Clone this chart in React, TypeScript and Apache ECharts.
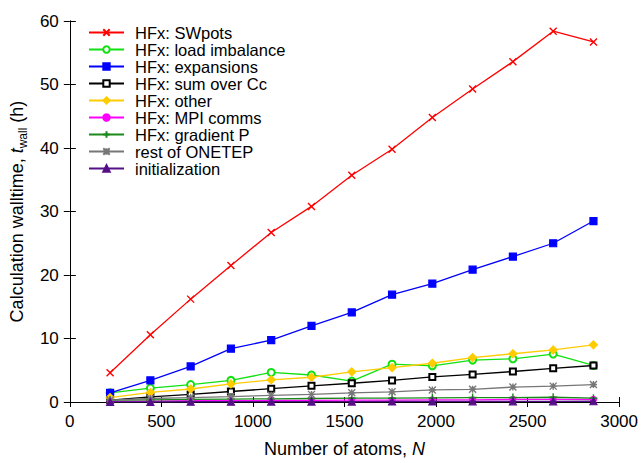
import React, { useEffect, useRef } from "react";
import * as echarts from "echarts";

const atoms = [220, 440, 660, 880, 1100, 1320, 1540, 1760, 1980, 2200, 2420, 2640, 2860];
const swpots = [4.6, 10.6, 16.2, 21.5, 26.7, 30.8, 35.7, 39.8, 44.8, 49.3, 53.6, 58.4, 56.7];
const loadImbalance = [1.45, 2.2, 2.75, 3.4, 4.65, 4.25, 3.3, 5.95, 5.7, 6.6, 6.8, 7.55, 5.75];
const expansions = [1.45, 3.4, 5.6, 8.4, 9.75, 12.0, 14.1, 16.9, 18.65, 20.85, 22.9, 25.0, 28.5];
const sumOverCc = [0.3, 0.8, 1.2, 1.65, 2.1, 2.55, 2.95, 3.4, 3.95, 4.35, 4.8, 5.3, 5.75];
const other = [0.7, 1.5, 2.05, 2.85, 3.5, 3.9, 4.75, 5.4, 6.1, 7.0, 7.6, 8.2, 9.0];
const mpiComms = [0.1, 0.15, 0.2, 0.2, 0.25, 0.25, 0.3, 0.3, 0.35, 0.35, 0.4, 0.4, 0.4];
const gradientP = [0.3, 0.35, 0.4, 0.45, 0.5, 0.55, 0.6, 0.6, 0.65, 0.7, 0.7, 0.75, 0.6];
const restOfOnetep = [0.3, 0.55, 0.7, 0.85, 1.05, 1.2, 1.45, 1.6, 1.9, 2.0, 2.35, 2.5, 2.75];
const initialization = [0.02, 0.03, 0.04, 0.05, 0.06, 0.06, 0.07, 0.08, 0.09, 0.1, 0.1, 0.11, 0.12];

const seriesNames = [
  "HFx: SWpots",
  "HFx: load imbalance",
  "HFx: expansions",
  "HFx: sum over Cc",
  "HFx: other",
  "HFx: MPI comms",
  "HFx: gradient P",
  "rest of ONETEP",
  "initialization",
];

const CROSS = "path://M0,0L10,10M10,0L0,10";
const PLUS = "path://M5,0L5,10M0,5L10,5";
const STAR = "path://M0,0L10,10M10,0L0,10M5,0L5,10M0,5L10,5";

const FONT = "Liberation Sans, Arial, Helvetica, sans-serif";

export default function App() {
  const ref = useRef<HTMLDivElement>(null);
  useEffect(() => {
    if (!ref.current) return;
    const chart = echarts.init(ref.current, undefined, { renderer: "svg" });
    const values = [swpots, loadImbalance, expansions, sumOverCc, other, mpiComms, gradientP, restOfOnetep, initialization];
    const colors = ["#ff0000", "#11e011", "#0000ff", "#000000", "#ffcc00", "#ff00ff", "#1a8a1a", "#777777", "#551088"];
    const symbols = [CROSS, "emptyCircle", "rect", "emptyRect", "diamond", "circle", PLUS, STAR, "triangle"];
    const sizes = [7, 7, 7, 6, 8, 6, 8, 7, 7];
    const series = values.map((vals, i) => ({
      name: seriesNames[i],
      type: "line",
      data: atoms.map((n, j) => [n, vals[j]]),
      symbol: symbols[i],
      symbolSize: sizes[i],
      showAllSymbol: true,
      lineStyle: { color: colors[i], width: 1.3 },
      itemStyle: {
        color: colors[i],
        borderColor: colors[i],
        borderWidth: i === 0 || i === 6 || i === 7 ? 1.4 : 1.2,
      },
      emphasis: { disabled: true },
      z: 2 + i,
    }));
    const axisLine = { show: true, lineStyle: { color: "#000", width: 1 } };
    const labelStyle = { color: "#000", fontSize: 17, fontFamily: FONT };
    chart.setOption({
      animation: false,
      backgroundColor: "#fff",
      grid: { left: 67, right: 14, top: 21, bottom: 55, containLabel: false },
      legend: {
        orient: "vertical",
        left: 88,
        top: 24,
        padding: 0,
        itemWidth: 35,
        itemHeight: 8,
        itemGap: 0,
        data: seriesNames,
        textStyle: { color: "#000", fontSize: 16.5, fontFamily: FONT, lineHeight: 16, padding: [0, 0, 0, 6] },
      },
      xAxis: [
        {
          type: "value",
          min: 0,
          max: 3000,
          interval: 500,
          axisLine,
          axisTick: { show: true, inside: true, length: 5, lineStyle: { color: "#000" } },
          splitLine: { show: false },
          axisLabel: { ...labelStyle, margin: 11, formatter: (v: number) => String(v) },
          name: "{n|Number of atoms, }{i|N}",
          nameLocation: "middle",
          nameGap: 38,
          nameTextStyle: {
            color: "#000",
            fontSize: 18,
            fontFamily: FONT,
            rich: {
              n: { fontSize: 18, fontFamily: FONT, color: "#000" },
              i: { fontSize: 18, fontFamily: FONT, color: "#000", fontStyle: "italic" },
            },
          },
        },
        {
          type: "value",
          position: "top",
          min: 0,
          max: 3000,
          interval: 500,
          axisLine,
          axisTick: { show: true, inside: true, length: 5, lineStyle: { color: "#000" } },
          splitLine: { show: false },
          axisLabel: { show: false },
        },
      ],
      yAxis: [
        {
          type: "value",
          min: 0,
          max: 60,
          interval: 10,
          axisLine,
          axisTick: { show: true, inside: true, length: 6, lineStyle: { color: "#000" } },
          splitLine: { show: false },
          axisLabel: { ...labelStyle, margin: 11 },
          name: "{n|Calculation walltime, }{i|t}{s|wall}{n| (h)}",
          nameLocation: "middle",
          nameGap: 35,
          nameRotate: 90,
          nameTextStyle: {
            color: "#000",
            fontSize: 18,
            fontFamily: FONT,
            rich: {
              n: { fontSize: 18, lineHeight: 18, fontFamily: FONT, color: "#000", verticalAlign: "top" },
              i: { fontSize: 18, lineHeight: 18, fontFamily: FONT, color: "#000", fontStyle: "italic", verticalAlign: "top" },
              s: { fontSize: 12, lineHeight: 12, fontFamily: FONT, color: "#000", verticalAlign: "top", padding: [9, 0, 0, 0] },
            },
          },
        },
        {
          type: "value",
          position: "right",
          min: 0,
          max: 60,
          interval: 10,
          axisLine,
          axisTick: { show: true, inside: true, length: 6, lineStyle: { color: "#000" } },
          splitLine: { show: false },
          axisLabel: { show: false },
        },
      ],
      series,
    });
    return () => chart.dispose();
  }, []);
  return (
    <div
      ref={ref}
      style={{ position: "fixed", left: 0, top: 0, width: 641, height: 463, background: "#fff" }}
    />
  );
}
